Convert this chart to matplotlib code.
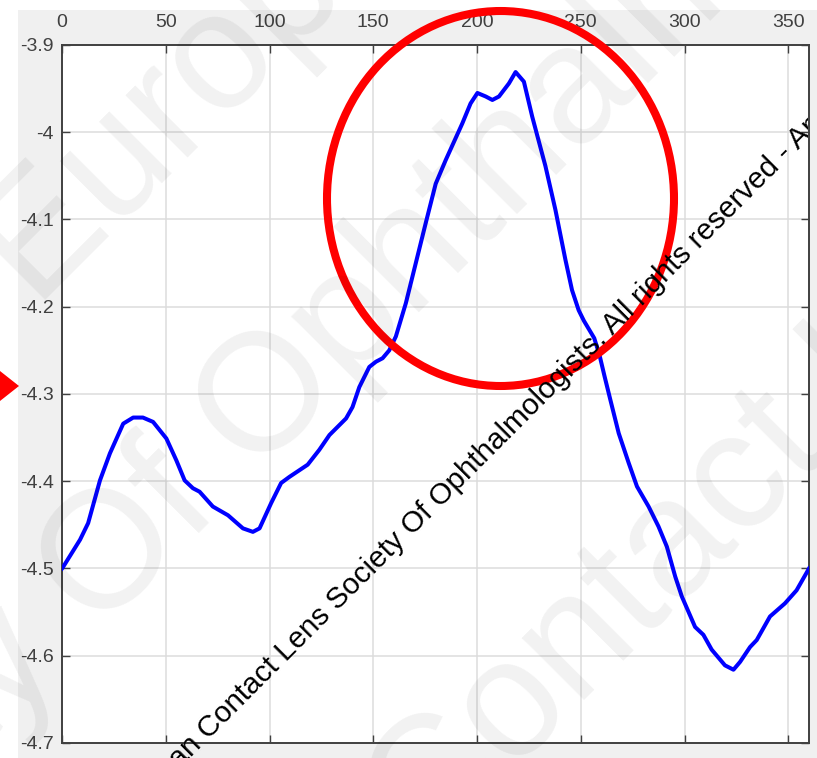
import matplotlib
matplotlib.use("Agg")
import matplotlib.pyplot as plt
from matplotlib.patches import Ellipse, Polygon, Rectangle
from matplotlib.transforms import Bbox

# profile: angle (deg) vs value
angle = [0, 0.6, 4, 8.7, 12.6, 18.3, 23.1, 29.5, 34.3, 39, 43.9, 50.3, 55.1,
         59.1, 63.1, 66.3, 72.7, 80, 87.2, 92, 95.2, 100.8, 105.6, 109.6,
         118.4, 124, 128.9, 136.9, 140, 143.3, 148.1, 151.3, 154.5, 157.7,
         160.9, 165.7, 170.5, 175.3, 180.1, 184.9, 192.9, 196.9, 200.2, 204.2,
         207.4, 210.6, 215.4, 218.6, 222.6, 226.6, 233, 237.8, 242.6, 245.8,
         249, 251.5, 254, 256.5, 259, 261.5, 264.3, 268.3, 273.1, 277.1,
         282.7, 287.5, 291.5, 295.5, 298.7, 305.1, 309.1, 313.1, 319.5, 323.6,
         326.8, 331.6, 334.8, 341.2, 348.4, 354, 360]
value = [-4.500, -4.498, -4.485, -4.467, -4.448, -4.399, -4.368, -4.334,
         -4.327, -4.327, -4.332, -4.351, -4.376, -4.399, -4.408, -4.412,
         -4.429, -4.439, -4.454, -4.458, -4.454, -4.425, -4.402, -4.395,
         -4.381, -4.364, -4.347, -4.328, -4.315, -4.292, -4.269, -4.263,
         -4.259, -4.250, -4.234, -4.196, -4.150, -4.104, -4.059, -4.032,
         -3.990, -3.967, -3.955, -3.959, -3.963, -3.959, -3.944, -3.931,
         -3.942, -3.982, -4.039, -4.089, -4.146, -4.181, -4.204, -4.216,
         -4.226, -4.236, -4.255, -4.280, -4.307, -4.345, -4.379, -4.406,
         -4.429, -4.452, -4.475, -4.509, -4.532, -4.567, -4.576, -4.593,
         -4.611, -4.616, -4.607, -4.590, -4.582, -4.555, -4.540, -4.525,
         -4.500]

xticks = [0, 50, 100, 150, 200, 250, 300, 350]
yticks = [-3.9, -4.0, -4.1, -4.2, -4.3, -4.4, -4.5, -4.6, -4.7]
ytick_labels = ["-3.9", "-4", "-4.1", "-4.2", "-4.3", "-4.4", "-4.5", "-4.6", "-4.7"]

watermark = "European Contact Lens Society Of Ophthalmologists"
notice = "European Contact Lens Society Of Ophthalmologists. All rights reserved - Am"

W, H = 817, 758
plt.rcParams["font.family"] = ["Liberation Sans", "DejaVu Sans"]

fig = plt.figure(figsize=(W / 100, H / 100), dpi=100, facecolor="white")


def fxy(px, py):
    return px / W, 1 - py / H


# grey figure panel
fig.patches.append(Rectangle(fxy(18, 758), (W - 18) / W, (758 - 10) / H,
                             transform=fig.transFigure, facecolor="#f0f0f0",
                             edgecolor="none", zorder=-10))

ax = fig.add_axes([62 / W, 15 / H, (809 - 62) / W, (743 - 45) / H])
ax.set_facecolor("white")
ax.plot(angle, value, color="#0000ff", lw=2.9, zorder=3)

ax.set_xlim(0, 360)
ax.set_ylim(-4.7, -3.9)
ax.set_xticks(xticks)
ax.set_yticks(yticks)
ax.set_yticklabels(ytick_labels)
ax.tick_params(axis="x", top=True, bottom=True, labeltop=True, labelbottom=False,
               direction="in", length=6, width=1, colors="#404040",
               labelsize=14, pad=10)
ax.tick_params(axis="y", left=True, right=True, labelleft=True,
               direction="in", length=6, width=1, colors="#404040",
               labelsize=14, pad=6)
for sp in ax.spines.values():
    sp.set_color("#404040")
    sp.set_linewidth(1.4)
ax.grid(True, color="#dcdcdc", lw=1.1)
ax.set_axisbelow(True)

# red highlight circle and arrow head
fig.add_artist(Ellipse(fxy(500.5, 198.5), 347 / W, 375 / H,
                       transform=fig.transFigure, fill=False,
                       edgecolor="#ff0000", lw=5.8, zorder=20))
fig.add_artist(Polygon([fxy(0, 371), fxy(0, 401), fxy(19, 386)], closed=True,
                       transform=fig.transFigure, facecolor="#ff0000",
                       edgecolor="none", zorder=20))

# copyright notice, cut at the right spine
note = fig.text(*fxy(112, 837), notice, rotation=45, rotation_mode="anchor",
                ha="left", va="baseline", fontsize=21.3, color="black", zorder=30)
note.set_clip_box(Bbox.from_extents(0, 0, 808, H))
note.set_clip_on(True)

# big faint watermark lines
for sx, sy in [(36, 309), (-1593, 2324), (-118, 1402)]:
    fig.text(*fxy(sx, sy), watermark, rotation=45, rotation_mode="anchor",
             ha="left", va="baseline", fontsize=120, color="black",
             alpha=0.055, zorder=40)

fig.savefig("out.png", dpi=100, facecolor="white")
